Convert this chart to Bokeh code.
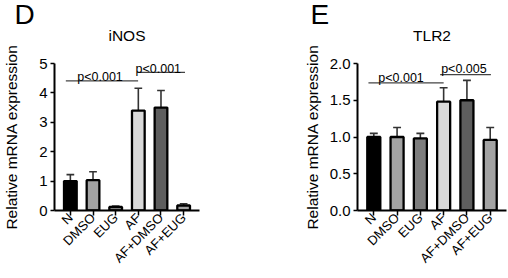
import math
from bokeh.plotting import figure
from bokeh.layouts import row
from bokeh.models import Label, FixedTicker, ColumnDataSource, Title
from bokeh.embed import file_html
from bokeh.resources import INLINE

# ---------------- data ----------------
categories = ["N", "DMSO", "EUG", "AF", "AF+DMSO", "AF+EUG"]
bar_colors = ["#000000", "#a3a3a3", "#7d7d7d", "#d9d9d9", "#5e5e5e", "#a3a3a3"]

inos_mean = [1.00, 1.03, 0.12, 3.40, 3.50, 0.17]
inos_err = [0.22, 0.29, 0.03, 0.76, 0.58, 0.06]

tlr2_mean = [1.00, 1.00, 0.98, 1.48, 1.50, 0.96]
tlr2_err = [0.05, 0.13, 0.07, 0.19, 0.27, 0.17]

inos_ticks = [0, 1, 2, 3, 4, 5]
inos_tick_labels = ["0", "1", "2", "3", "4", "5"]
tlr2_ticks = [0, 0.5, 1.0, 1.5, 2.0]
tlr2_tick_labels = ["0.0", "0.5", "1.0", "1.5", "2.0"]

inos_sig_text = ["p<0.001", "p<0.001"]
inos_sig_from = [-0.20, 2.95]
inos_sig_to = [2.99, 5.06]
inos_sig_y = [4.41, 4.70]

tlr2_sig_text = ["p<0.001", "p<0.005"]
tlr2_sig_from = [-0.23, 2.85]
tlr2_sig_to = [3.00, 5.03]
tlr2_sig_y = [1.737, 1.85]

FONT = "Liberation Sans"
H = 278


def make_panel(means, errs, y_end, ticks, tick_labels, sig_text, sig_from, sig_to, sig_y,
               width, min_left, min_right, sig_tx, sig_ty_off,
               title, title_offset, letter, letter_offset, ylab_standoff):
    xs = list(range(len(categories)))
    p = figure(width=width, height=H, x_range=(-0.7, 5.7), y_range=(0, y_end),
               output_backend="svg", toolbar_location=None,
               min_border_left=min_left, min_border_right=min_right,
               min_border_top=63, min_border_bottom=68)
    p.xgrid.visible = False
    p.ygrid.visible = False
    p.outline_line_color = None

    tops = [m + e for m, e in zip(means, errs)]
    src = ColumnDataSource(dict(x=xs, m=means, top=tops, color=bar_colors,
                                cl=[x - 0.17 for x in xs], cr=[x + 0.17 for x in xs]))
    p.segment(x0="x", y0="m", x1="x", y1="top", source=src, line_color="#333333", line_width=1.6)
    p.segment(x0="cl", y0="top", x1="cr", y1="top", source=src, line_color="#333333", line_width=1.6)
    p.vbar(x="x", top="m", bottom=0, width=0.56, source=src, fill_color="color",
           line_color="black", line_width=2.3)

    ssrc = ColumnDataSource(dict(x0=sig_from, x1=sig_to, y=sig_y))
    p.segment(x0="x0", y0="y", x1="x1", y1="y", source=ssrc, line_color="#444444", line_width=1.3)
    for t, tx, yy in zip(sig_text, sig_tx, sig_y):
        p.add_layout(Label(x=tx, y=yy + sig_ty_off, text=t, text_font=FONT,
                           text_font_size="12.5px", text_align="center",
                           text_baseline="alphabetic", text_color="black"))

    p.xaxis.ticker = FixedTicker(ticks=xs)
    p.xaxis.major_label_overrides = {i: c for i, c in enumerate(categories)}
    p.xaxis.major_label_orientation = math.pi / 4
    p.xaxis.major_label_text_font = FONT
    p.xaxis.major_label_text_font_size = "13px"
    p.xaxis.major_label_text_color = "black"
    p.xaxis.major_label_standoff = 0
    p.xaxis.major_tick_out = 5
    p.xaxis.major_tick_in = 0
    p.xaxis.minor_tick_line_color = None
    p.xaxis.axis_line_width = 2
    p.xaxis.major_tick_line_width = 1.5
    p.xaxis.axis_line_color = "black"
    p.xaxis.major_tick_line_color = "black"

    p.yaxis.ticker = FixedTicker(ticks=ticks)
    p.yaxis.major_label_overrides = {t: l for t, l in zip(ticks, tick_labels)}
    p.yaxis.major_label_text_font = FONT
    p.yaxis.major_label_text_font_size = "15px"
    p.yaxis.major_label_text_color = "black"
    p.yaxis.major_label_standoff = 3
    p.yaxis.major_tick_out = 4
    p.yaxis.major_tick_in = 0
    p.yaxis.minor_tick_line_color = None
    p.yaxis.axis_line_width = 2
    p.yaxis.major_tick_line_width = 1.5
    p.yaxis.axis_line_color = "black"
    p.yaxis.major_tick_line_color = "black"

    p.yaxis.axis_label = "Relative mRNA expression"
    p.yaxis.axis_label_text_font = FONT
    p.yaxis.axis_label_text_font_size = "15.5px"
    p.yaxis.axis_label_text_font_style = "normal"
    p.yaxis.axis_label_text_color = "black"
    p.yaxis.axis_label_standoff = ylab_standoff

    p.add_layout(Title(text=title, align="center", offset=title_offset, standoff=39,
                       text_font=FONT, text_font_size="15.5px", text_font_style="normal",
                       text_color="black"), "above")
    p.add_layout(Title(text=letter, align="left", offset=letter_offset, standoff=-48,
                       text_font=FONT, text_font_size="28px", text_font_style="normal",
                       text_color="black"), "above")
    return p


p1 = make_panel(inos_mean, inos_err, 5, inos_ticks, inos_tick_labels,
                inos_sig_text, inos_sig_from, inos_sig_to, inos_sig_y,
                width=290, min_left=50, min_right=91, sig_tx=[1.31, 3.88], sig_ty_off=0.12,
                title="iNOS", title_offset=2.5, letter="D", letter_offset=-40, ylab_standoff=16)
p2 = make_panel(tlr2_mean, tlr2_err, 2, tlr2_ticks, tlr2_tick_labels,
                tlr2_sig_text, tlr2_sig_from, tlr2_sig_to, tlr2_sig_y,
                width=218, min_left=67, min_right=2, sig_tx=[1.17, 3.87], sig_ty_off=0.07,
                title="TLR2", title_offset=2, letter="E", letter_offset=-47, ylab_standoff=6)

layout = row(p1, p2, spacing=0)

open("out.html", "w").write(file_html(layout, INLINE))
